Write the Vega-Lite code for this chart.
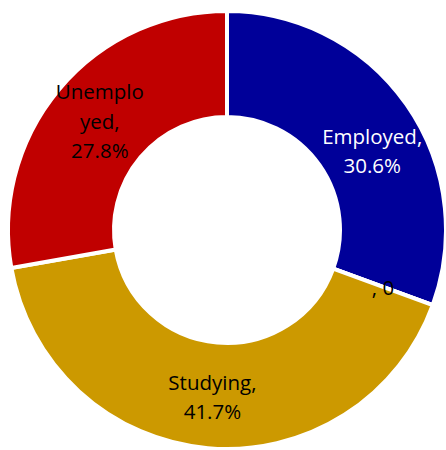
{
  "$schema": "https://vega.github.io/schema/vega-lite/v6.json",
  "width": 438,
  "height": 438,
  "autosize": {"type": "none"},
  "padding": {"left": 8, "top": 11, "right": 0, "bottom": 0},
  "background": "white",
  "data": {
    "values": [
      {"category": "Employed", "value": 30.6, "rank": 1, "label": "Employed,\n30.6%"},
      {"category": "", "value": 0, "rank": 2, "label": ", 0"},
      {"category": "Studying", "value": 41.7, "rank": 3, "label": "Studying,\n41.7%"},
      {"category": "Unemployed", "value": 27.8, "rank": 4, "label": "Unemplo\nyed,\n27.8%"}
    ]
  },
  "transform": [
    {"stack": "value", "groupby": [], "sort": [{"field": "rank", "order": "ascending"}], "as": ["v0", "v1"]},
    {"calculate": "(datum.v0 + datum.v1) / 2", "as": "mid"}
  ],
  "layer": [
    {
      "mark": {"type": "arc", "outerRadius": 219, "innerRadius": 113, "stroke": "white", "strokeWidth": 4},
      "encoding": {
        "theta": {"field": "v0", "type": "quantitative", "scale": {"domain": [0, 100.1]}},
        "theta2": {"field": "v1"},
        "color": {
          "field": "category",
          "type": "nominal",
          "scale": {"domain": ["Employed", "", "Studying", "Unemployed"], "range": ["#000099", "#000099", "#CC9900", "#C00000"]},
          "legend": null
        }
      }
    },
    {
      "transform": [{"filter": "datum.category === 'Employed'"}],
      "mark": {"type": "text", "radius": 165, "dx": 10, "dy": 3, "fontSize": 20.5, "font": "Open Sans", "lineBreak": "\n", "lineHeight": 29, "color": "white", "baseline": "middle"},
      "encoding": {
        "theta": {"field": "mid", "type": "quantitative", "scale": {"domain": [0, 100.1]}},
        "text": {"field": "label"}
      }
    },
    {
      "transform": [{"filter": "datum.category === 'Studying'"}],
      "mark": {"type": "text", "radius": 166, "dy": -11, "fontSize": 20.5, "font": "Open Sans", "lineBreak": "\n", "lineHeight": 29, "color": "black", "baseline": "middle"},
      "encoding": {
        "theta": {"field": "mid", "type": "quantitative", "scale": {"domain": [0, 100.1]}},
        "text": {"field": "label"}
      }
    },
    {
      "transform": [{"filter": "datum.category === 'Unemployed'"}],
      "mark": {"type": "text", "radius": 166, "dy": -30, "fontSize": 20.5, "font": "Open Sans", "lineBreak": "\n", "lineHeight": 29.5, "color": "black", "baseline": "middle"},
      "encoding": {
        "theta": {"field": "mid", "type": "quantitative", "scale": {"domain": [0, 100.1]}},
        "text": {"field": "label"}
      }
    },
    {
      "transform": [{"filter": "datum.category === ''"}],
      "mark": {"type": "text", "radius": 166, "dy": 2, "fontSize": 20.5, "font": "Open Sans", "color": "black", "baseline": "middle"},
      "encoding": {
        "theta": {"field": "mid", "type": "quantitative", "scale": {"domain": [0, 100.1]}},
        "text": {"field": "label"}
      }
    }
  ],
  "config": {"view": {"stroke": null}}
}
